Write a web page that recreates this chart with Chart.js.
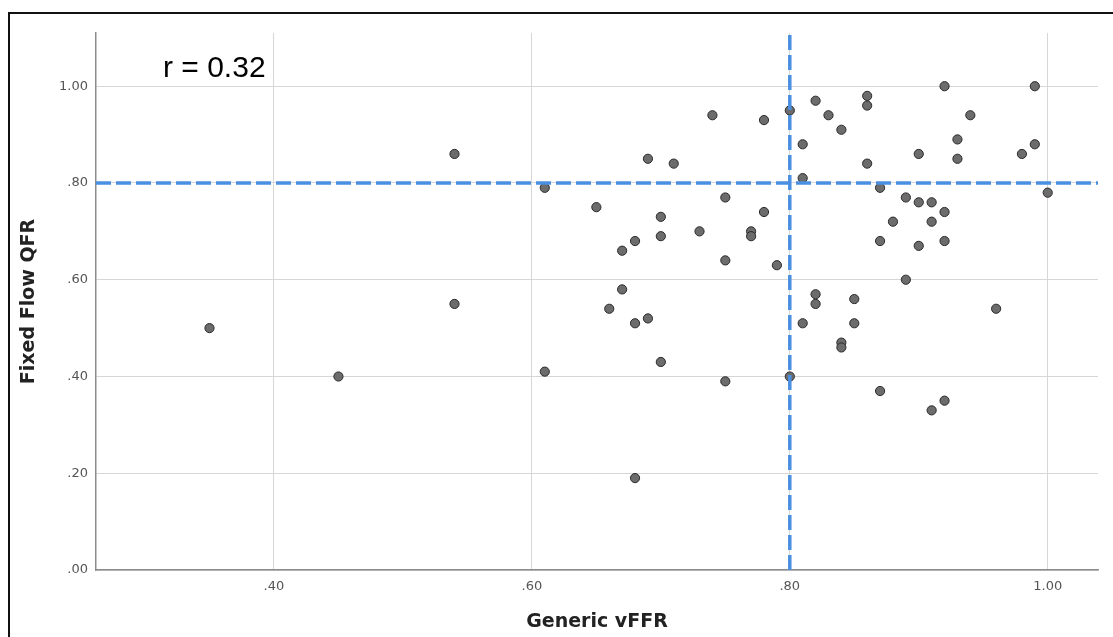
<!DOCTYPE html>
<html>
<head>
<meta charset="utf-8">
<script src="https://cdn.jsdelivr.net/npm/chart.js@4/dist/chart.umd.min.js"></script>
<style>
  html, body { margin: 0; padding: 0; background: #ffffff; }
  #frame { position: absolute; left: 8px; top: 12px; width: 1200px; height: 700px; border: 2px solid #111; box-sizing: border-box; }
  #c { position: absolute; left: 0; top: 0; }
</style>
</head>
<body>
<div id="frame"></div>
<canvas id="c" width="1113" height="637"></canvas>
<script>
// ---- data ----
const genericVFFR = [0.35, 0.45, 0.54, 0.54, 0.61, 0.61, 0.65, 0.66, 0.67, 0.67,
                     0.68, 0.68, 0.68, 0.69, 0.69, 0.70, 0.70, 0.70, 0.71, 0.73,
                     0.74, 0.75, 0.75, 0.75, 0.77, 0.77, 0.78, 0.78, 0.79, 0.80,
                     0.80, 0.81, 0.81, 0.81, 0.82, 0.82, 0.82, 0.83, 0.84, 0.84,
                     0.84, 0.85, 0.85, 0.86, 0.86, 0.86, 0.87, 0.87, 0.87, 0.88,
                     0.89, 0.89, 0.90, 0.90, 0.90, 0.91, 0.91, 0.91, 0.92, 0.92,
                     0.92, 0.92, 0.93, 0.93, 0.94, 0.96, 0.98, 0.99, 0.99, 1.00];
const fixedFlowQFR = [0.50, 0.40, 0.86, 0.55, 0.79, 0.41, 0.75, 0.54, 0.66, 0.58,
                      0.68, 0.51, 0.19, 0.85, 0.52, 0.73, 0.69, 0.43, 0.84, 0.70,
                      0.94, 0.77, 0.64, 0.39, 0.70, 0.69, 0.93, 0.74, 0.63, 0.95,
                      0.40, 0.88, 0.81, 0.51, 0.97, 0.57, 0.55, 0.94, 0.91, 0.47,
                      0.46, 0.56, 0.51, 0.98, 0.96, 0.84, 0.79, 0.68, 0.37, 0.72,
                      0.77, 0.60, 0.86, 0.76, 0.67, 0.76, 0.72, 0.33, 1.00, 0.74,
                      0.68, 0.35, 0.89, 0.85, 0.94, 0.54, 0.86, 1.00, 0.88, 0.78];
const xCutoff = 0.80;
const yCutoff = 0.80;
const xTicks = [0.40, 0.60, 0.80, 1.00];
const yTicks = [0.00, 0.20, 0.40, 0.60, 0.80, 1.00];
const xRange = [0.262, 1.039];
const yRange = [0.00, 1.11];
const annotationText = 'r = 0.32';
const xTitle = 'Generic vFFR';
const yTitle = 'Fixed Flow QFR';

const points = genericVFFR.map((v, i) => ({ x: v, y: fixedFlowQFR[i] }));
const vLine = [{ x: xCutoff, y: yRange[0] }, { x: xCutoff, y: yRange[1] }];
const hLine = [{ x: xRange[0], y: yCutoff }, { x: xRange[1], y: yCutoff }];

const fmt = v => {
  const s = Number(v).toFixed(2);
  return s.startsWith('0') ? s.slice(1) : s;
};

const annotationPlugin = {
  id: 'rtext',
  afterDraw(chart) {
    const ctx = chart.ctx;
    ctx.save();
    ctx.font = '30px "Liberation Sans", Arial, sans-serif';
    ctx.fillStyle = '#000';
    ctx.textBaseline = 'alphabetic';
    ctx.textAlign = 'left';
    ctx.fillText(annotationText, chart.chartArea.left + 67, chart.chartArea.top + 44);
    ctx.restore();
  }
};

const tickFont = { family: '"DejaVu Sans", sans-serif', size: 13 };
const titleFont = { family: '"DejaVu Sans", sans-serif', size: 19, weight: 'bold' };

new Chart(document.getElementById('c'), {
  type: 'scatter',
  data: {
    datasets: [
      { type: 'line', data: vLine, borderColor: '#4a8fe2', borderWidth: 3.5, borderDash: [15, 5],
        pointRadius: 0, fill: false, tension: 0 },
      { type: 'line', data: hLine, borderColor: '#4a8fe2', borderWidth: 3.5, borderDash: [15, 5],
        pointRadius: 0, fill: false, tension: 0 },
      { data: points, backgroundColor: '#6c6c6c', borderColor: '#2a2a2a', borderWidth: 1,
        pointRadius: 4.6, pointHoverRadius: 4.6 }
    ]
  },
  options: {
    responsive: false,
    animation: false,
    devicePixelRatio: 1,
    layout: { padding: { left: 10, top: 33, right: 15, bottom: 0 } },
    plugins: { legend: { display: false }, tooltip: { enabled: false } },
    scales: {
      x: {
        type: 'linear',
        min: xRange[0], max: xRange[1],
        afterBuildTicks: s => { s.ticks = xTicks.map(v => ({ value: v })); },
        afterFit: s => { s.height = 67; },
        grid: { color: '#d6d6d6', lineWidth: 1, drawTicks: false },
        border: { color: '#8c8c8c', width: 1.5 },
        ticks: { callback: fmt, font: tickFont, color: '#555', padding: 9, maxRotation: 0 },
        title: { display: true, text: xTitle, font: titleFont, color: '#222', padding: { top: 0, bottom: 4 } }
      },
      y: {
        type: 'linear',
        min: yRange[0], max: yRange[1],
        afterBuildTicks: s => { s.ticks = yTicks.map(v => ({ value: v })); },
        afterFit: s => { s.width = 86; },
        grid: { color: '#d6d6d6', lineWidth: 1, drawTicks: false },
        border: { color: '#8c8c8c', width: 1.5 },
        ticks: { callback: fmt, font: tickFont, color: '#555', padding: 8 },
        title: { display: true, text: yTitle, font: titleFont, color: '#222', padding: { top: 8, bottom: 0 } }
      }
    }
  },
  plugins: [annotationPlugin]
});
</script>
</body>
</html>
